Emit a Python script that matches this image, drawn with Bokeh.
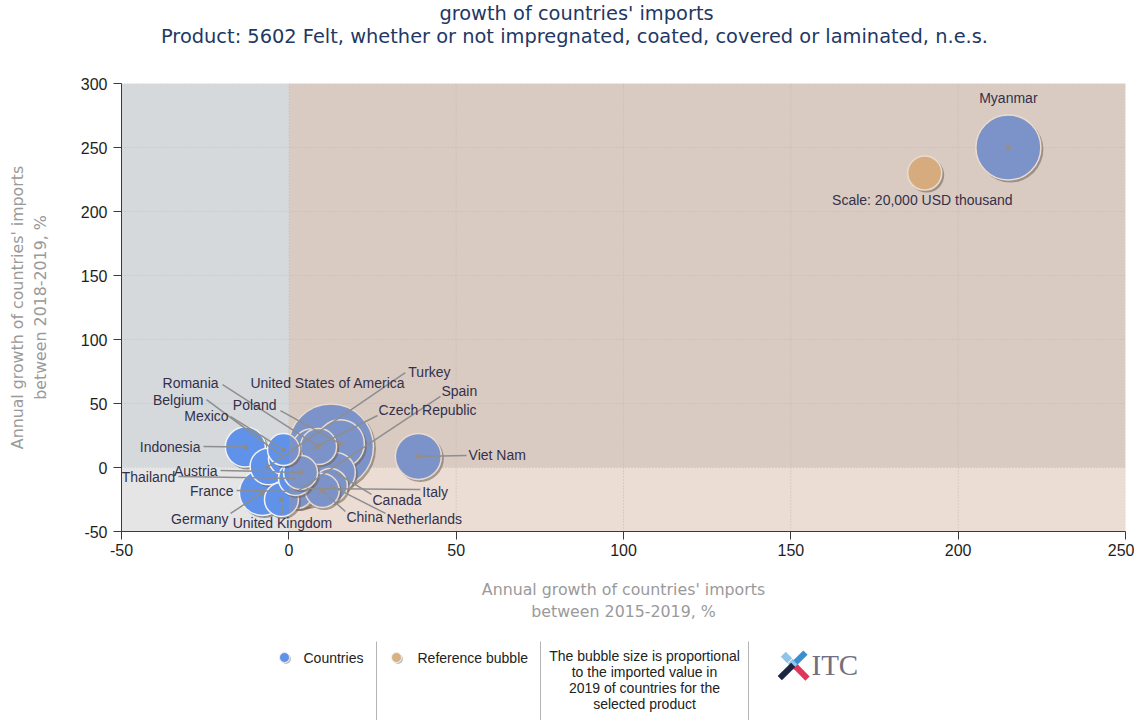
import math
from bokeh.plotting import figure
from bokeh.models import FixedTicker, ColumnDataSource, PrintfTickFormatter
from bokeh.layouts import column
from bokeh.embed import file_html
from bokeh.resources import INLINE
from bokeh.core.properties import value

# ---------------- data ----------------
countries = ["Myanmar", "Viet Nam", "United States of America", "Poland", "Czech Republic",
             "Germany", "Indonesia", "Canada", "Italy", "Spain", "Turkey", "Romania",
             "France", "Netherlands", "China", "United Kingdom", "Belgium", "Thailand",
             "Austria", "Mexico"]
growth_2015_2019 = [215, 38.7, 12.6, 15.4, 6.9, -7.9, -13, 13.9, 5.3, 2.9, -6.1, 8.9,
                    2.3, 12.4, 10, -2.2, -1.0, 2.0, 3.5, -1.6]
growth_2018_2019 = [250, 8.6, 16.4, 18.5, 14.6, -19.5, 16, -3.9, -16.4, -18, 0.8, 16.4,
                    -18.8, -14, -18, -25, 7.0, -8.6, -3.9, 14]
imports_2019 = [73100, 36600, 125000, 39900, 27700, 36600, 27700, 27700, 22400, 22400,
                23200, 22400, 20000, 20000, 20000, 20000, 20000, 20000, 20000, 17700]

ref_text = "Scale: 20,000 USD thousand"
ref_value = 20000
ref_x, ref_y = 190, 230

x_ticks = [-50, 0, 50, 100, 150, 200, 250]
y_ticks = [-50, 0, 50, 100, 150, 200, 250, 300]

title_lines = ["growth of countries' imports",
               "Product: 5602 Felt, whether or not impregnated, coated, covered or laminated, n.e.s."]
x_title = "Annual growth of countries' imports\nbetween 2015-2019, %"
y_title = "Annual growth of countries' imports\nbetween 2018-2019, %"
legend_items = ["Countries", "Reference bubble"]
legend_note = ["The bubble size is proportional", "to the imported value in",
               "2019 of countries for the", "selected product"]

# label layout (data units): text anchor, alignment, leader start
label_layout = {
    "Myanmar": (215, 289, "center", None),
    "Viet Nam": (53.7, 9.4, "left", (53.1, 9.4)),
    "Turkey": (35.7, 75, "left", (34.8, 74.2)),
    "United States of America": (34.8, 66.4, "right", None),
    "Spain": (45.6, 59.4, "left", (45.3, 55.5)),
    "Czech Republic": (26.8, 45.3, "left", (26.5, 40.6)),
    "Poland": (-3.7, 49.2, "right", (-2.5, 44.5)),
    "Romania": (-21, 66.4, "right", (-19.8, 64.8)),
    "Belgium": (-25.5, 53.1, "right", (-24.6, 53.1)),
    "Mexico": (-18, 40.6, "right", (-17.4, 39.8)),
    "Indonesia": (-26.4, 16.4, "right", (-25.5, 16.4)),
    "Austria": (-21.3, -3.1, "right", (-20.4, -2.3)),
    "Thailand": (-33.9, -7.8, "right", (-33.0, -7.0)),
    "France": (-16.5, -18, "right", (-15.6, -18)),
    "Germany": (-18, -40.6, "right", (-17.4, -35.9)),
    "United Kingdom": (-1.9, -43, "center", (-1.9, -36.7)),
    "China": (17.2, -39, "left", (16.9, -34.4)),
    "Netherlands": (29.2, -40.6, "left", (28.9, -35.9)),
    "Canada": (25, -25, "left", (24.7, -21)),
    "Italy": (39.9, -18.75, "left", (39.3, -17.2)),
}

# ---------------- geometry / style ----------------
TH = 70                      # title strip height
FL, FR, FT, FB = 121, 9, 83 - TH, 99
FW, FH = 1004, 448
W = FL + FW + FR
H_MAIN = FT + FH + FB
X0, X1 = -50, 250
Y0, Y1 = -50, 300
ppx = FW / (X1 - X0)
ppy = FH / (Y1 - Y0)
K = 17 / math.sqrt(20000)


def diam(v):
    return 2 * K * math.sqrt(v)


BLUE = "#5f92e8"
TAN = "#d8b283"
LABEL_COLOR = "#34304a"


def strip(height):
    f = figure(width=W, height=height, x_range=(FL, FL + FW), y_range=(0, height),
               output_backend="svg", toolbar_location=None, min_border_left=FL,
               min_border_right=FR, min_border_top=0, min_border_bottom=0)
    f.axis.visible = False
    f.grid.visible = False
    f.outline_line_color = None
    return f


# ---------------- title strip ----------------
tf = strip(TH)
tf.text(x=[576, 574], y=[TH - 13, TH - 36], text=title_lines, text_align="center",
        text_baseline="middle", text_font=value("DejaVu Sans"),
        text_font_size=value("19.4px"), text_color="#1f3864")

# ---------------- main plot ----------------
p = figure(width=W, height=H_MAIN, x_range=(X0, X1), y_range=(Y0, Y1),
           output_backend="svg", toolbar_location=None,
           min_border_left=FL, min_border_right=FR, min_border_top=FT, min_border_bottom=FB,
           background_fill_color="white", border_fill_color="white")
p.outline_line_color = None
p.grid.visible = False

# quadrant backgrounds
p.quad(left=[X0, X0, 0, 0], right=[0, 0, X1, X1], bottom=[0, Y0, 0, Y0], top=[Y1, 0, Y1, 0],
       fill_color=["#d5d9dc", "#e5e5e5", "#dcdddf", "#f6f5f7"], line_color=None)

# dotted grid
p.segment(x0=x_ticks, y0=[Y0] * len(x_ticks), x1=x_ticks, y1=[Y1] * len(x_ticks),
          line_color="#c2c2c2", line_dash="1 2", line_width=1)
p.segment(x0=[X0] * len(y_ticks), y0=y_ticks, x1=[X1] * len(y_ticks), y1=y_ticks,
          line_color="#c2c2c2", line_dash="1 2", line_width=1)

sdx, sdy = 2.0 / ppx, -2.0 / ppy
order = sorted(range(len(countries)), key=lambda i: -imports_2019[i])


def bubble(x, y, v, color):
    d = diam(v)
    p.scatter(x=[x + sdx], y=[y + sdy], size=d + 1, fill_color="#4a4a4a", fill_alpha=0.55,
              line_color=None)
    p.scatter(x=[x], y=[y], size=d, fill_color=color, line_color="#f2f2f2", line_width=1.5)


bubble(ref_x, ref_y, ref_value, TAN)
for i in order:
    bubble(growth_2015_2019[i], growth_2018_2019[i], imports_2019[i], BLUE)
    p.scatter(x=[growth_2015_2019[i]], y=[growth_2018_2019[i]], size=5,
              fill_color="#8a8a8a", line_color=None)

# overlay for positive 2015-2019 growth (mutes bubbles)
p.quad(left=[0], right=[X1], bottom=[Y0], top=[Y1], fill_color="#cf966c", fill_alpha=0.25,
       line_color=None)

# leader lines and labels
lx0, ly0, lx1, ly1 = [], [], [], []
tx, ty, tt, ta = [], [], [], []
for i, c in enumerate(countries):
    x, y, al, start = label_layout[c]
    tx.append(x); ty.append(y); tt.append(c); ta.append(al)
    if start is not None:
        lx0.append(start[0]); ly0.append(start[1])
        lx1.append(growth_2015_2019[i]); ly1.append(growth_2018_2019[i])
p.segment(x0=lx0, y0=ly0, x1=lx1, y1=ly1, line_color="#8e8e8e", line_width=1.5)

src = ColumnDataSource(dict(x=tx, y=ty, text=tt, align=ta))
p.text(x="x", y="y", text="text", text_align="align", text_baseline="middle", source=src,
       text_font=value("Liberation Sans"), text_font_size=value("14px"), text_color=LABEL_COLOR)
p.text(x=[ref_x - 0.7], y=[208.6], text=[ref_text], text_align="center", text_baseline="middle",
       text_font=value("Liberation Sans"), text_font_size=value("14px"), text_color=LABEL_COLOR)

# axes
p.xaxis.ticker = FixedTicker(ticks=x_ticks)
p.yaxis.ticker = FixedTicker(ticks=y_ticks)
for ax in (p.xaxis[0], p.yaxis[0]):
    ax.formatter = PrintfTickFormatter(format="%d")
    ax.major_tick_out = 8
    ax.major_tick_in = 0
    ax.minor_tick_line_color = None
    ax.axis_line_color = "#3a3a3a"
    ax.major_tick_line_color = "#3a3a3a"
    ax.major_label_text_font = "Liberation Sans"
    ax.major_label_text_font_size = "16px"
    ax.major_label_text_color = "#1e1e1e"
    ax.axis_label_text_font = "DejaVu Sans"
    ax.axis_label_text_font_size = "15.8px"
    ax.axis_label_text_color = "#9a9a9a"
    ax.axis_label_text_font_style = "normal"
p.xaxis.axis_label = x_title
p.yaxis.axis_label = y_title
p.xaxis.major_label_standoff = 4
p.yaxis.major_label_standoff = 6
p.xaxis.axis_label_standoff = 21
p.yaxis.axis_label_standoff = 28

# ---------------- legend strip ----------------
LH = 720 - TH - H_MAIN
lg = strip(LH)
top = TH + H_MAIN  # page y of strip top; data y = top + LH - page_y


def py(page_y):
    return top + LH - page_y


lg.segment(x0=[376, 540, 748], y0=[py(641)] * 3, x1=[376, 540, 748], y1=[0] * 3,
           line_color="#b4b4b4", line_width=1)
lg.scatter(x=[285.5, 397.5], y=[py(658.5)] * 2, size=10, fill_color="#9a9a9a",
           fill_alpha=0.6, line_color=None)
lg.scatter(x=[284, 396], y=[py(657)] * 2, size=10, fill_color=[BLUE, TAN],
           line_color="#f2f2f2", line_width=1)
lg.text(x=[303, 417], y=[py(657)] * 2, text=legend_items, text_baseline="middle",
        text_font=value("Liberation Sans"), text_font_size=value("14px"), text_color="#222222")
lg.text(x=[644] * 4, y=[py(655), py(671), py(687), py(703)], text=legend_note,
        text_align="center", text_baseline="middle", text_font=value("Liberation Sans"),
        text_font_size=value("14px"), text_color="#222222")

# ITC logo
lg.rect(x=[786, 793], y=[py(657), py(664)], width=9, height=7, angle=-math.pi / 4,
        fill_color="#8cc4ea", line_color=None)
lg.rect(x=[801], y=[py(672)], width=17, height=6, angle=-math.pi / 4,
        fill_color="#e0365a", line_color=None)
lg.rect(x=[800], y=[py(657)], width=14, height=6, angle=math.pi / 4,
        fill_color="#3a8fd0", line_color=None)
lg.rect(x=[786], y=[py(671)], width=19, height=6, angle=math.pi / 4,
        fill_color="#1c2541", line_color=None)
lg.text(x=[811], y=[py(664)], text=["ITC"], text_baseline="middle",
        text_font=value("Liberation Serif"), text_font_size=value("29px"),
        text_color="#707080")

layout = column(tf, p, lg, spacing=0)
open("out.html", "w").write(file_html(layout, INLINE))
